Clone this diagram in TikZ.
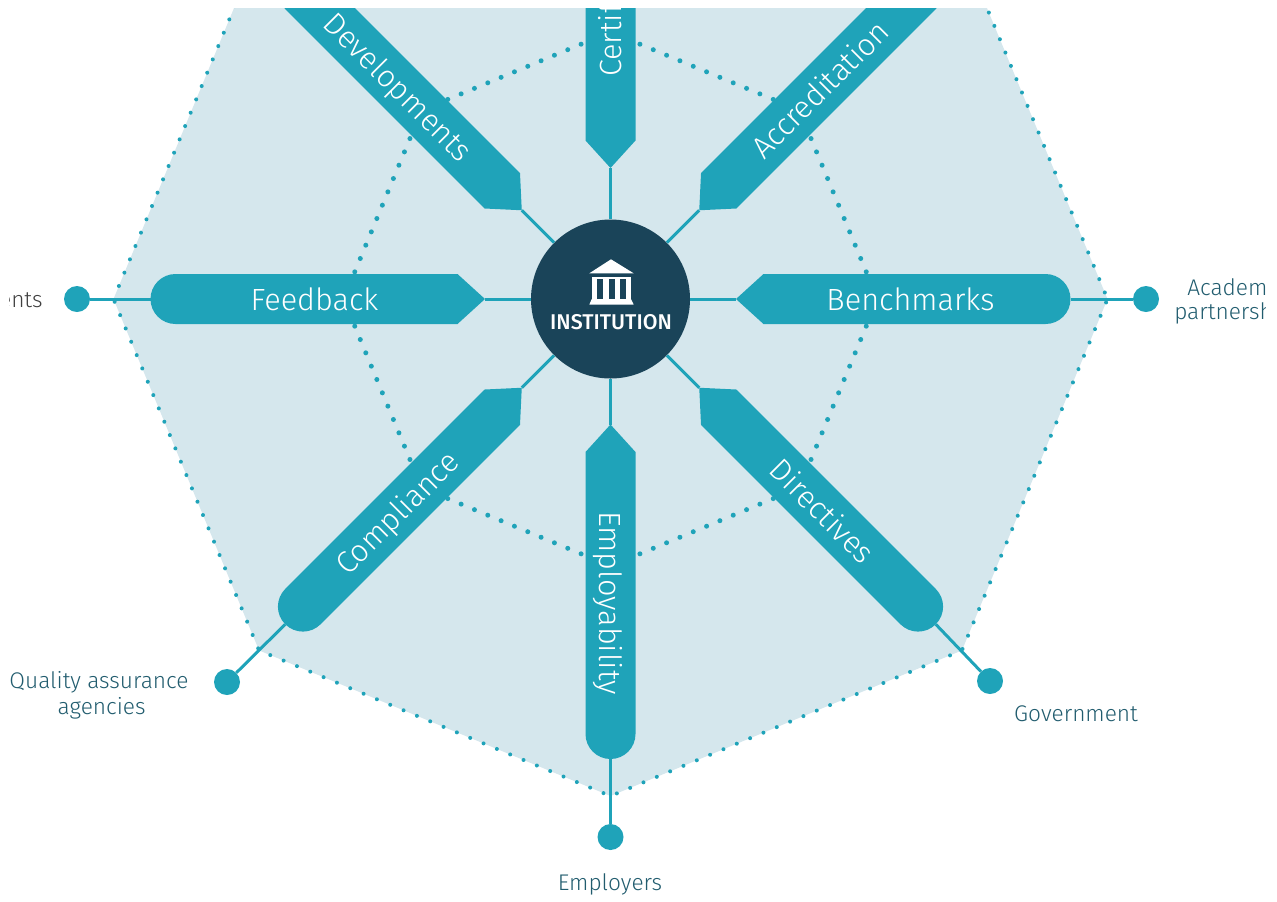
\documentclass[tikz,border=0pt]{standalone}
\usepackage{fontspec}
\setmainfont{Fira Sans Light}
\newfontfamily\instfont{Fira Sans Medium}
\definecolor{teal}{HTML}{1FA3B9}
\definecolor{pale}{HTML}{D5E7ED}
\definecolor{navy}{HTML}{1A4459}
\definecolor{labelink}{HTML}{215C6E}
\begin{document}
\begin{tikzpicture}[x=.75pt, y=-.75pt,
	link/.style={draw=teal, line width=2.25pt},
	pill/.style={fill=teal},
	pilltext/.style={text=white, inner sep=0pt, text height=16.5pt, text depth=0pt, font=\fontsize{23}{23}\selectfont},
	dotnode/.style={circle, fill=teal, minimum size=19.5pt, inner sep=0pt},
	labeltext/.style={text=labelink, inner sep=0pt, align=center, font=\fontsize{17}{19.5}\selectfont},
	outerdots/.style={draw=teal, line width=3pt, line cap=round, dash pattern=on 0pt off 10.82pt},
	innerdots/.style={draw=teal, line width=3.75pt, line cap=round, dash pattern=on 0pt off 10.82pt}]
	\useasboundingbox (0,0) rectangle (1277,901);
	\clip (9,8) rectangle (1265,901);
	%octagons
	\begin{scope}[shift={(610.5,299)}]
		\fill[pale] (0:497) -- (45:497) -- (90:497) -- (135:497) -- (180:497) -- (225:497) -- (270:497) -- (315:497) -- cycle;
		\draw[outerdots, dash phase=8.57pt] (180:497) -- (135:497) -- (90:497) -- (45:497) -- (0:497);
		\draw[outerdots, dash phase=.25pt]  (180:497) -- (225:497) -- (270:497) -- (315:497) -- (0:497);
		\foreach \a/\b/\p in {180/135/10.4, 180/225/10.4, 0/45/10.4, 0/315/10.4, 90/135/8.57, 90/45/8.57, 270/225/8.57, 270/315/8.57}
			\draw[innerdots, dash phase=\p pt] (\a:267) -- (\b:267);
	\end{scope}
	\node[circle, fill=navy, minimum size=119.25pt, inner sep=0pt] (inst) at (610.5,299) {};
	%arms
	\foreach \ang/\rot/\dist/\off/\lab in {0/0/300/0/Benchmarks, 45/-45/300/0/Directives, 90/-90/304/0/Employability, 135/45/302/0/Compliance, 180/0/296/0/Feedback, 225/-45/300/0/Developments, 315/45/296/0/Accreditation, 270/90/258/5.5/}{
		\begin{scope}[shift={(610.5,299)}, rotate=-\ang]
			\coordinate (tip\ang) at (125.5+\off,0);
			\coordinate (end\ang) at (460,0);
			\draw[link] (inst) -- (tip\ang);
			\fill[pill] (tip\ang) -- (153+\off,25) -- (435,25) arc (90:-90:25) -- (153+\off,-25) -- cycle;
			\node[pilltext, rotate=\rot] (arm\ang) at (\dist,0) {\lab};
		\end{scope}
	}
	\node[pilltext, rotate=90, anchor=west] (arm270) at (610.5,77) {Certif};
	%outer dots
	\node[dotnode] (dot0)   at (1146,299)  {};
	\node[dotnode] (dot45)  at (990,681)   {};
	\node[dotnode] (dot90)  at (610.5,837) {};
	\node[dotnode] (dot135) at (227,682)   {};
	\node[dotnode] (dot180) at (77,299)    {};
	\foreach \ang in {0,45,90,135,180}
		\draw[link] (end\ang) -- (dot\ang);
	%labels
	\node[labeltext, anchor=west] (academ)  at (1187,287) {Academ};
	\node[labeltext, anchor=west] (partner) at (1174,313) {partnersh};
	\node[labeltext] (gov)     at (1076,713.5) {Government};
	\node[labeltext] (employ)  at (610,884)  {Employers};
	\node[labeltext] (quality) at (99,695)   {Quality assurance\\\hspace{4pt}agencies};
	\node[labeltext, anchor=east, text=black!75] (ents) at (43,300) {ents};
	%icon
	\fill[white] (589.3,273.3) -- (611,259.3) -- (633.7,273.3) -- cycle;
	\fill[white] (591.7,276.7) rectangle (631,279);
	\fill[white] (591.7,279) rectangle ++(5.6,20);
	\fill[white] (603.3,279) rectangle ++(5.4,20);
	\fill[white] (614.7,279) rectangle ++(5.3,20);
	\fill[white] (626,279)   rectangle ++(5,20);
	\fill[white] (591.7,299) -- (631,299) -- (633.7,304.7) -- (589.3,304.7) -- cycle;
	\node[text=white, inner sep=0pt, font=\instfont\fontsize{16}{16}\selectfont] (instlabel) at (611,322) {INSTITUTION};
\end{tikzpicture}
\end{document}
